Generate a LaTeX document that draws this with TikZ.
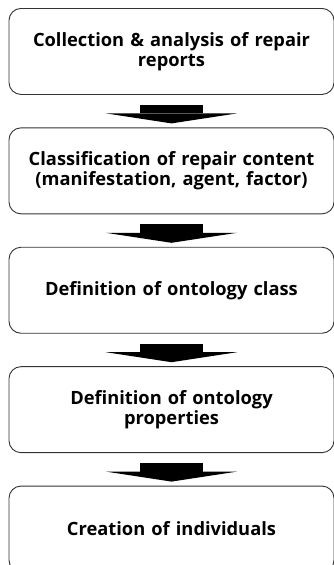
\documentclass[tikz,border=0pt]{standalone}
\usepackage{fontspec}
\setmainfont{Open Sans}
\usetikzlibrary{positioning,arrows.meta}

\tikzset{
  stepbox/.style={draw=black!80,line width=0.9pt,rounded corners=12pt,
    minimum width=325pt,minimum height=86pt,text width=315pt,align=center,
    inner sep=0pt,font=\fontsize{18.3}{20.5}\selectfont\bfseries},
  flowarrow/.style={line width=63pt,
    -{Triangle[width=131pt,length=10pt,line width=0pt]}}
}

\begin{document}
\begin{tikzpicture}[x=1pt,y=-1pt,node distance=32.5pt]
    \useasboundingbox (0,0) rectangle (334,565);

    \node[stepbox,anchor=north] (collect) at (171.5,8)
        {Collection \& analysis of repair\\reports};
    \node[stepbox,below=of collect] (classify)
        {Classification of repair content\\(manifestation, agent, factor)};
    \node[stepbox,below=of classify] (defclass)
        {Definition of ontology class};
    \node[stepbox,below=of defclass] (defprop)
        {Definition of ontology\\properties};
    \node[stepbox,below=of defprop] (create)
        {Creation of individuals};

    \draw[flowarrow] ([yshift=-10pt]collect.south) -- ([yshift=4pt]classify.north);
    \draw[flowarrow] ([yshift=-10pt]classify.south) -- ([yshift=4pt]defclass.north);
    \draw[flowarrow] ([yshift=-10pt]defclass.south) -- ([yshift=4pt]defprop.north);
    \draw[flowarrow] ([yshift=-10pt]defprop.south) -- ([yshift=4pt]create.north);
\end{tikzpicture}
\end{document}
